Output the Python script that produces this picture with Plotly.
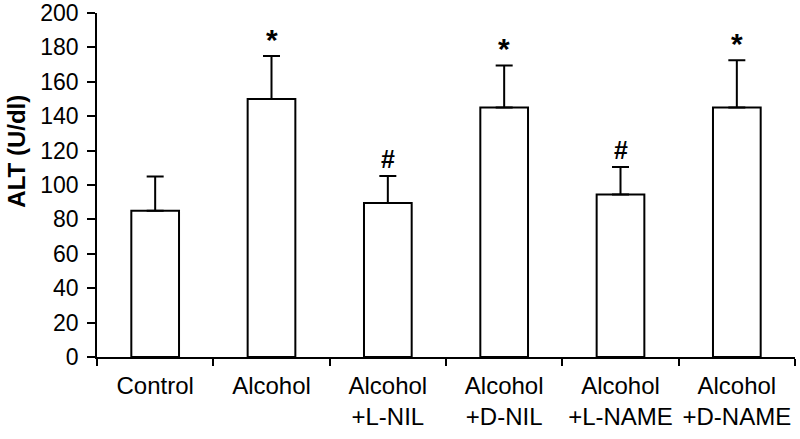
import plotly.graph_objects as go

categories = ["Control", "Alcohol", "Alcohol<br>+L-NIL", "Alcohol<br>+D-NIL", "Alcohol<br>+L-NAME", "Alcohol<br>+D-NAME"]
means = [85, 150, 89.5, 145, 94.5, 145]
sds = [20, 25, 15.8, 24.5, 16, 27.5]
marks = ["", "*", "#", "*", "#", "*"]
y_ticks = [0, 20, 40, 60, 80, 100, 120, 140, 160, 180, 200]

FONT = "Liberation Sans, Arial, sans-serif"

fig = go.Figure()
fig.add_trace(go.Bar(
    x=categories, y=means, width=0.41,
    marker=dict(color="white", line=dict(color="black", width=2)),
    error_y=dict(type="data", array=sds, arrayminus=[0] * len(sds), symmetric=False,
                 color="black", thickness=2, width=8.5),
    hoverinfo="skip",
))

for c, m, s, k in zip(categories, means, sds, marks):
    if not k:
        continue
    fig.add_annotation(x=c, y=m + s, text=f"<b>{k}</b>", showarrow=False,
                       yanchor="middle", yshift=17 if k == "*" else 17,
                       font=dict(family=FONT, size=30 if k == "*" else 25, color="black"))

fig.add_annotation(xref="paper", yref="paper", x=-0.1146, y=0.597, text="<b>ALT (U/dl)</b>",
                   textangle=-90, showarrow=False, xanchor="center", yanchor="middle",
                   font=dict(family=FONT, size=24, color="black"))

fig.update_layout(
    width=800, height=439,
    margin=dict(l=97, r=5, t=13, b=82),
    paper_bgcolor="white", plot_bgcolor="white",
    showlegend=False,
    font=dict(family=FONT, color="black"),
    bargap=0.59,
)
fig.update_yaxes(range=[0, 200], tickvals=y_ticks, ticks="outside", ticklen=8, tickwidth=1.5,
                 tickcolor="black", showline=True, linecolor="black", linewidth=1.5,
                 showgrid=False, zeroline=False, automargin=False, ticklabelstandoff=4,
                 tickfont=dict(size=23, family=FONT, color="black"))
fig.update_xaxes(ticks="outside", tickson="boundaries", ticklen=7, tickwidth=1.5, tickcolor="black",
                 showline=True, linecolor="black", linewidth=1.5, showgrid=False,
                 tickangle=0, automargin=False, ticklabelstandoff=6,
                 tickfont=dict(size=24, family=FONT, color="black"))

fig.write_html("out.html", config={"displayModeBar": False},
               post_script="document.body.style.margin='0';")
